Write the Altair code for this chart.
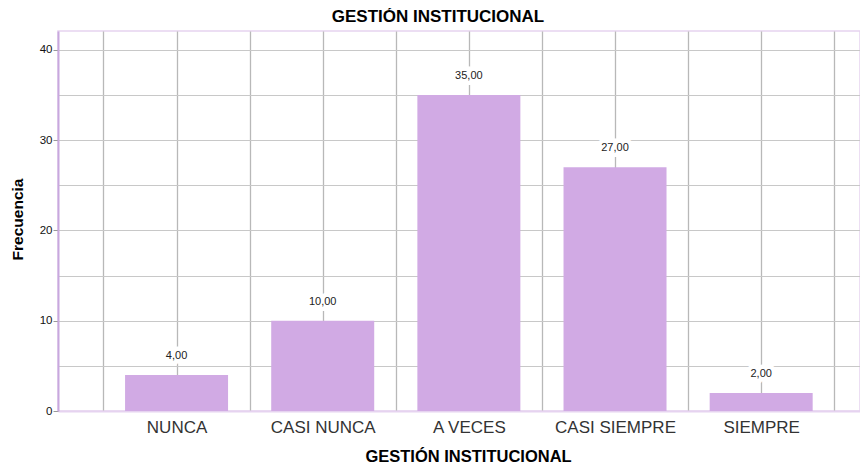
import json
import altair as alt
import pandas as pd

categories = ["NUNCA", "CASI NUNCA", "A VECES", "CASI SIEMPRE", "SIEMPRE"]
frequencies = [4, 10, 35, 27, 2]
y_grid_values = [0, 5, 10, 15, 20, 25, 30, 35, 40]
x_grid_values = [0.5, 1, 1.5, 2, 2.5, 3, 3.5, 4, 4.5, 5, 5.5]

FONT = "Liberation Sans"
TITLE = "GESTIÓN INSTITUCIONAL"

df = pd.DataFrame({"cat": categories, "freq": frequencies})

base = (
    alt.Chart(df)
    .transform_window(idx="row_number()")
    .transform_calculate(lbl="replace(format(datum.freq, '.2f'), '.', ',')")
)

cat_expr = json.dumps(categories, ensure_ascii=False)

x_enc = alt.X(
    "idx:Q",
    scale=alt.Scale(domain=[0.223, 5.642], nice=False, zero=False),
    axis=alt.Axis(
        values=x_grid_values,
        labelExpr=f"datum.value % 1 == 0 ? {cat_expr}[datum.value - 1] : ''",
        ticks=False,
        tickSize=0,
        labelPadding=16,
        labelBaseline="middle",
        labelFont=FONT,
        labelFontSize=17,
        labelColor="#333333",
        labelFlush=False,
        labelOverlap=False,
        grid=True,
        gridColor="#b8b8b8",
        gridWidth=1.3,
        domainColor="#e6d3f0",
        domainWidth=2,
        title=TITLE,
        titleFont=FONT,
        titleFontSize=16.5,
        titleFontWeight="bold",
        titleColor="#000000",
        titleX=410,
        titleY=45,
        titleAlign="center",
        titleBaseline="middle",
    ),
)

y_enc = alt.Y(
    "freq:Q",
    scale=alt.Scale(domain=[0, 42.1], nice=False),
    axis=alt.Axis(
        values=y_grid_values,
        labelExpr="datum.value % 10 == 0 ? datum.value : ''",
        tickSize=5,
        tickColor="#999999",
        tickOpacity={"condition": {"test": "datum.value % 10 == 0", "value": 1}, "value": 0},
        labelPadding=1,
        labelBaseline="middle",
        labelFont=FONT,
        labelFontSize=11.5,
        labelColor="#111111",
        grid=True,
        gridColor="#c8c8c8",
        gridWidth=1.2,
        domainColor="#c8a8de",
        domainWidth=2,
        title="Frecuencia",
        titleFont=FONT,
        titleFontSize=15.5,
        titleFontWeight="bold",
        titleColor="#000000",
        titleAngle=270,
        titleX=-41,
        titleY=188,
        titleAlign="center",
        titleBaseline="middle",
    ),
)

bars = base.mark_bar(size=103, color="#D1AAE4").encode(x=x_enc, y=y_enc)

halo = base.mark_text(
    dy=-19, font=FONT, fontSize=11, color="white", stroke="white", strokeWidth=9
).encode(x="idx:Q", y="freq:Q", text="lbl:N")

labels = base.mark_text(dy=-19, font=FONT, fontSize=11, color="#222222").encode(
    x="idx:Q", y="freq:Q", text="lbl:N"
)

chart = (
    alt.layer(bars, halo, labels)
    .properties(
        width=802,
        height=380,
        padding={"left": 50, "top": 23, "right": 0, "bottom": 54},
        autosize=alt.AutoSizeParams(type="none"),
        title=alt.Title(
            TITLE,
            font=FONT,
            fontSize=17,
            fontWeight="bold",
            color="#000000",
            anchor="middle",
            dx=-21,
            offset=5,
        ),
    )
    .configure_view(stroke="#e6d3f0", strokeWidth=1.5)
)

chart.save("out.html", embed_options={"renderer": "svg", "actions": False})
